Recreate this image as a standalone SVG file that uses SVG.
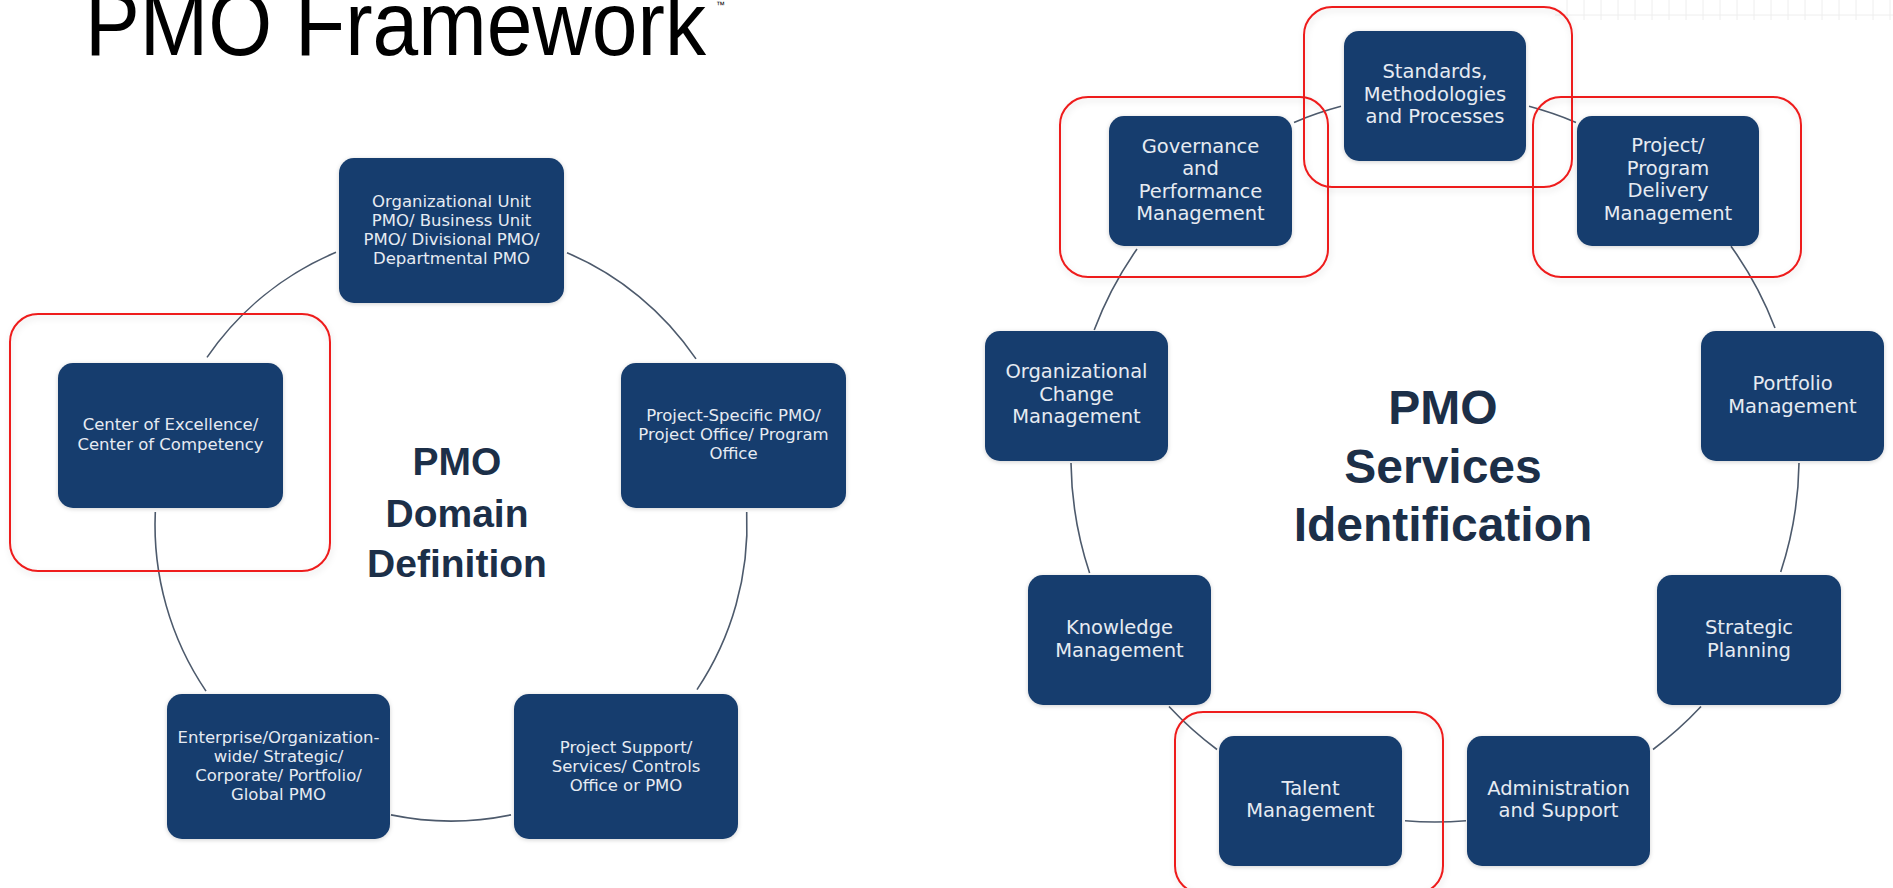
<svg xmlns="http://www.w3.org/2000/svg" width="1893" height="888" viewBox="0 0 1893 888">
<defs>
<style>
.node rect{fill:#163d6e;filter:url(#ns)}
.lt{font-family:"DejaVu Sans","Liberation Sans",sans-serif;font-size:16.5px;fill:#e6ebf2;text-anchor:middle}
.rt{font-family:"DejaVu Sans","Liberation Sans",sans-serif;font-size:19.5px;fill:#e6ebf2;text-anchor:middle}
.ctr{font-family:"Liberation Sans",Arial,sans-serif;font-weight:bold;fill:#1c2f48;text-anchor:middle}
.conn path{fill:none;stroke:#4d5a6c;stroke-width:1.6}
.hl{fill:none;stroke:#ee1c1c;stroke-width:2;filter:url(#rs)}
.grid line{stroke:#eeeeee;stroke-width:1}
</style>
<filter id="ns" x="-10%" y="-10%" width="120%" height="120%"><feDropShadow dx="0" dy="1" stdDeviation="2" flood-color="#000" flood-opacity="0.18"/></filter>
<filter id="rs" x="-10%" y="-10%" width="120%" height="120%"><feDropShadow dx="1" dy="3" stdDeviation="3" flood-color="#000" flood-opacity="0.12"/></filter>
</defs>
<rect width="1893" height="888" fill="#ffffff"/>
<g class="grid">
<line x1="1555" y1="15" x2="1893" y2="15"/>
<line x1="1567" y1="0" x2="1567" y2="20"/><line x1="1584" y1="0" x2="1584" y2="20"/><line x1="1601" y1="0" x2="1601" y2="20"/><line x1="1618" y1="0" x2="1618" y2="20"/><line x1="1635" y1="0" x2="1635" y2="20"/><line x1="1652" y1="0" x2="1652" y2="20"/><line x1="1669" y1="0" x2="1669" y2="20"/><line x1="1686" y1="0" x2="1686" y2="20"/><line x1="1703" y1="0" x2="1703" y2="20"/><line x1="1720" y1="0" x2="1720" y2="20"/><line x1="1737" y1="0" x2="1737" y2="20"/><line x1="1754" y1="0" x2="1754" y2="20"/><line x1="1771" y1="0" x2="1771" y2="20"/><line x1="1788" y1="0" x2="1788" y2="20"/><line x1="1805" y1="0" x2="1805" y2="20"/><line x1="1822" y1="0" x2="1822" y2="20"/><line x1="1839" y1="0" x2="1839" y2="20"/><line x1="1856" y1="0" x2="1856" y2="20"/><line x1="1873" y1="0" x2="1873" y2="20"/><line x1="1890" y1="0" x2="1890" y2="20"/>
</g>
<g id="title">
<text x="85" y="55" font-family="'Liberation Sans',Arial,sans-serif" font-size="90" fill="#000" textLength="621" lengthAdjust="spacingAndGlyphs">PMO Framework</text>
<text x="716" y="8" font-family="'Liberation Sans',Arial,sans-serif" font-size="9" fill="#000">™</text>
</g>
<g class="conn" id="connectors">
<path d="M207,357.4 A296,296 0 0 1 336,252.3"/>
<path d="M567,252.7 A296,296 0 0 1 696,358.9"/>
<path d="M746.7,512 A296,296 0 0 1 697,689.6"/>
<path d="M511,814.9 A296,296 0 0 1 391,814.9"/>
<path d="M206,691.1 A296,296 0 0 1 155.3,512"/>
<path d="M1294,122.4 A364,364 0 0 1 1341,106.3"/>
<path d="M1529,106.3 A364,364 0 0 1 1576,122.4"/>
<path d="M1731,246.2 A364,364 0 0 1 1775,328"/>
<path d="M1799,463 A364,364 0 0 1 1780.7,572"/>
<path d="M1701,706.5 A364,364 0 0 1 1653,749.5"/>
<path d="M1466,820.7 A364,364 0 0 1 1405,820.8"/>
<path d="M1217,749.5 A364,364 0 0 1 1169,706.5"/>
<path d="M1089.6,573 A364,364 0 0 1 1071,463"/>
<path d="M1094.2,330 A364,364 0 0 1 1137,249"/>
</g>
<g id="center-left" class="ctr" font-size="39">
<text x="457" y="475">PMO</text>
<text x="457" y="527">Domain</text>
<text x="457" y="577">Definition</text>
</g>
<g id="center-right" class="ctr" font-size="48">
<text x="1443" y="424">PMO</text>
<text x="1443" y="483">Services</text>
<text x="1443" y="541">Identification</text>
</g>
<g id="L1" class="node"><rect x="339" y="158" width="225" height="145" rx="15"/>
<text class="lt" x="451.5" y="207">Organizational Unit</text><text class="lt" x="451.5" y="226">PMO/ Business Unit</text><text class="lt" x="451.5" y="245">PMO/ Divisional PMO/</text><text class="lt" x="451.5" y="264">Departmental PMO</text></g>
<g id="L2" class="node"><rect x="58" y="363" width="225" height="145" rx="15"/>
<text class="lt" x="170.5" y="430">Center of Excellence/</text><text class="lt" x="170.5" y="450">Center of Competency</text></g>
<g id="L3" class="node"><rect x="621" y="363" width="225" height="145" rx="15"/>
<text class="lt" x="733.5" y="421">Project-Specific PMO/</text><text class="lt" x="733.5" y="440">Project Office/ Program</text><text class="lt" x="733.5" y="459">Office</text></g>
<g id="L4" class="node"><rect x="167" y="694" width="223" height="145" rx="15"/>
<text class="lt" x="278.5" y="743">Enterprise/Organization-</text><text class="lt" x="278.5" y="762">wide/ Strategic/</text><text class="lt" x="278.5" y="781">Corporate/ Portfolio/</text><text class="lt" x="278.5" y="800">Global PMO</text></g>
<g id="L5" class="node"><rect x="514" y="694" width="224" height="145" rx="15"/>
<text class="lt" x="626" y="753">Project Support/</text><text class="lt" x="626" y="772">Services/ Controls</text><text class="lt" x="626" y="791">Office or PMO</text></g>
<g id="R1" class="node"><rect x="1344" y="31" width="182" height="130" rx="15"/>
<text class="rt" x="1435" y="78">Standards,</text><text class="rt" x="1435" y="100.5">Methodologies</text><text class="rt" x="1435" y="123">and Processes</text></g>
<g id="R2" class="node"><rect x="1109" y="116" width="183" height="130" rx="15"/>
<text class="rt" x="1200.5" y="153">Governance</text><text class="rt" x="1200.5" y="175">and</text><text class="rt" x="1200.5" y="197.5">Performance</text><text class="rt" x="1200.5" y="220">Management</text></g>
<g id="R3" class="node"><rect x="1577" y="116" width="182" height="130" rx="15"/>
<text class="rt" x="1668" y="152">Project/</text><text class="rt" x="1668" y="174.5">Program</text><text class="rt" x="1668" y="197">Delivery</text><text class="rt" x="1668" y="219.5">Management</text></g>
<g id="R4" class="node"><rect x="985" y="331" width="183" height="130" rx="15"/>
<text class="rt" x="1076.5" y="378">Organizational</text><text class="rt" x="1076.5" y="400.5">Change</text><text class="rt" x="1076.5" y="423">Management</text></g>
<g id="R5" class="node"><rect x="1701" y="331" width="183" height="130" rx="15"/>
<text class="rt" x="1792.5" y="390">Portfolio</text><text class="rt" x="1792.5" y="413">Management</text></g>
<g id="R6" class="node"><rect x="1028" y="575" width="183" height="130" rx="15"/>
<text class="rt" x="1119.5" y="634">Knowledge</text><text class="rt" x="1119.5" y="657">Management</text></g>
<g id="R7" class="node"><rect x="1657" y="575" width="184" height="130" rx="15"/>
<text class="rt" x="1749" y="634">Strategic</text><text class="rt" x="1749" y="657">Planning</text></g>
<g id="R8" class="node"><rect x="1219" y="736" width="183" height="130" rx="15"/>
<text class="rt" x="1310.5" y="795">Talent</text><text class="rt" x="1310.5" y="817">Management</text></g>
<g id="R9" class="node"><rect x="1467" y="736" width="183" height="130" rx="15"/>
<text class="rt" x="1558.5" y="795">Administration</text><text class="rt" x="1558.5" y="817">and Support</text></g>
<g id="highlights">
<rect class="hl" x="10" y="314" width="320" height="257" rx="28"/>
<rect class="hl" x="1060" y="97" width="268" height="180" rx="28"/>
<rect class="hl" x="1304" y="7" width="268" height="180" rx="28"/>
<rect class="hl" x="1533" y="97" width="268" height="180" rx="28"/>
<rect class="hl" x="1175" y="712" width="268" height="182" rx="28"/>
</g>
</svg>
